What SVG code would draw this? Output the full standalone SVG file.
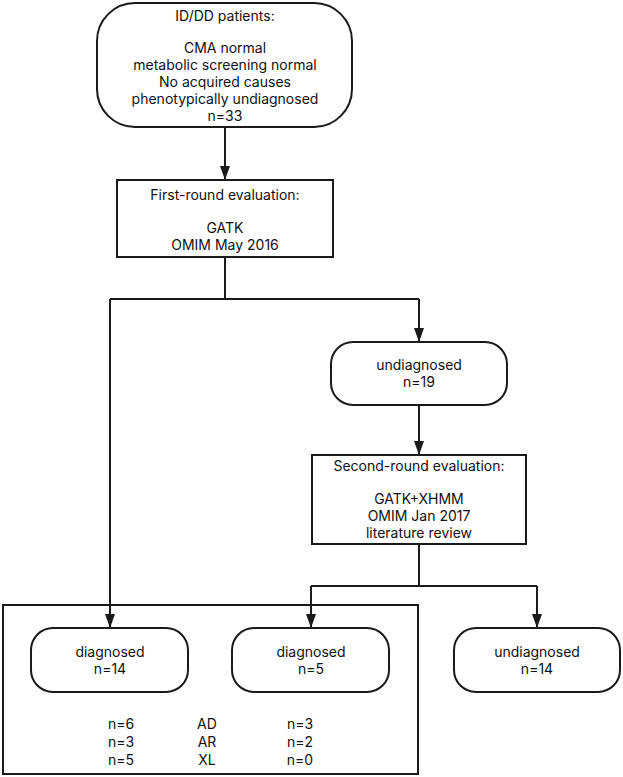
<svg xmlns="http://www.w3.org/2000/svg" width="623" height="777" viewBox="0 0 623 777">
<defs>
<style>
.n{fill:#fff;stroke:#1a1a1a;stroke-width:2}
.c{fill:none;stroke:#1a1a1a;stroke-width:2}
text{font-family:Inter,"Open Sans","Liberation Sans",sans-serif;font-size:14px;fill:#111;text-anchor:middle}
</style>
<marker id="ah" viewBox="0 0 14 10" refX="14" refY="5" markerWidth="14" markerHeight="10" markerUnits="userSpaceOnUse" orient="auto">
<path d="M0,0 L14,5 L0,10 z" fill="#1a1a1a"/>
</marker>
</defs>
<rect width="623" height="777" fill="#fff"/>
<g id="group-box">
<rect class="n" x="3" y="605" width="415" height="169" fill="none"/>
</g>
<g id="connectors">
<path class="c" d="M225,127 V180" marker-end="url(#ah)"/>
<path class="c" d="M225,257 V299"/>
<path class="c" d="M110,299 H419"/>
<path class="c" d="M110,299 V628" marker-end="url(#ah)"/>
<path class="c" d="M419,299 V342" marker-end="url(#ah)"/>
<path class="c" d="M419,405 V455" marker-end="url(#ah)"/>
<path class="c" d="M419,544 V586"/>
<path class="c" d="M311,586 H537"/>
<path class="c" d="M311,586 V628" marker-end="url(#ah)"/>
<path class="c" d="M537,586 V628" marker-end="url(#ah)"/>
</g>
<g id="start">
<rect class="n" x="97" y="3" width="255" height="124" rx="38" ry="38"/>
<text x="225" y="21">ID/DD patients:</text>
<text x="225" y="53">CMA normal</text>
<text x="225" y="70">metabolic screening normal</text>
<text x="225" y="87">No acquired causes</text>
<text x="225" y="104">phenotypically undiagnosed</text>
<text x="225" y="121">n=33</text>
</g>
<g id="first-round">
<rect class="n" x="117" y="180" width="216" height="77"/>
<text x="225" y="200">First-round evaluation:</text>
<text x="225" y="233">GATK</text>
<text x="225" y="250">OMIM May 2016</text>
</g>
<g id="undiagnosed-19">
<rect class="n" x="331" y="342" width="176" height="63" rx="22" ry="22"/>
<text x="419" y="370">undiagnosed</text>
<text x="419" y="387">n=19</text>
</g>
<g id="second-round">
<rect class="n" x="312" y="455" width="214" height="89"/>
<text x="419" y="471">Second-round evaluation:</text>
<text x="419" y="504">GATK+XHMM</text>
<text x="419" y="521">OMIM Jan 2017</text>
<text x="419" y="538">literature review</text>
</g>
<g id="diagnosed-14">
<rect class="n" x="31" y="628" width="157" height="64" rx="22" ry="22"/>
<text x="110" y="657">diagnosed</text>
<text x="110" y="674">n=14</text>
</g>
<g id="diagnosed-5">
<rect class="n" x="232" y="628" width="157" height="64" rx="22" ry="22"/>
<text x="311" y="657">diagnosed</text>
<text x="311" y="674">n=5</text>
</g>
<g id="undiagnosed-14">
<rect class="n" x="454" y="628" width="166" height="64" rx="22" ry="22"/>
<text x="537" y="657">undiagnosed</text>
<text x="537" y="674">n=14</text>
</g>
<g id="inheritance">
<text x="121" y="729">n=6</text>
<text x="207" y="729">AD</text>
<text x="300" y="729">n=3</text>
<text x="121" y="747">n=3</text>
<text x="207" y="747">AR</text>
<text x="300" y="747">n=2</text>
<text x="121" y="765">n=5</text>
<text x="207" y="765">XL</text>
<text x="300" y="765">n=0</text>
</g>
</svg>
